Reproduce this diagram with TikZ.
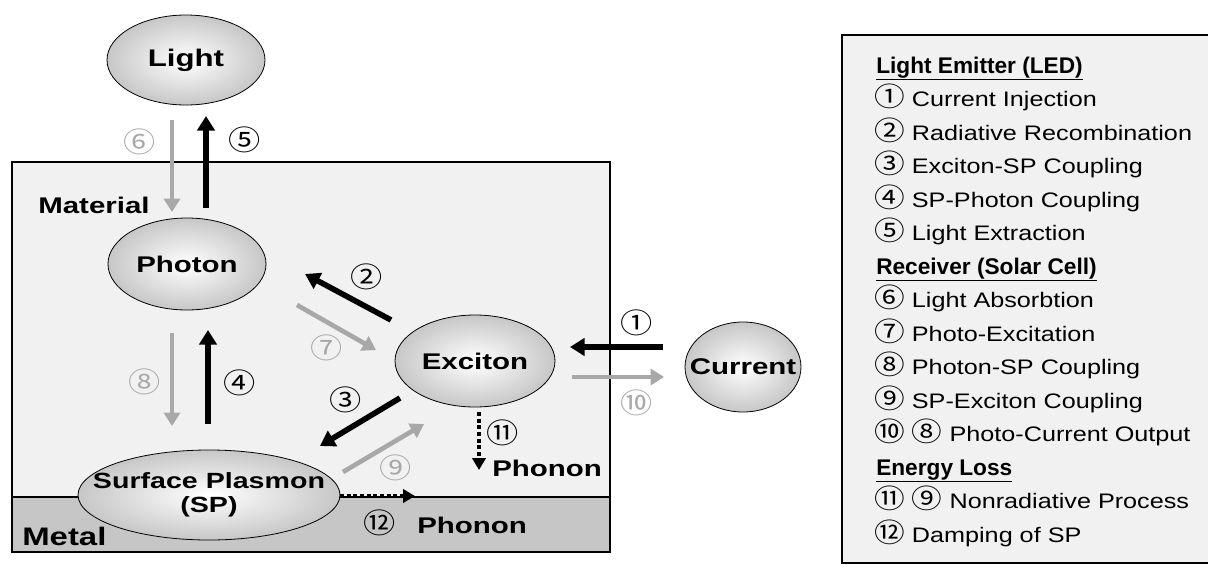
\documentclass[tikz,border=0pt]{standalone}
\usepackage{fontspec}
\setmainfont{Liberation Sans}[FakeStretch=1.3]
\newfontfamily\legf{Liberation Sans}[FakeStretch=1.2]
\newfontfamily\legb{Liberation Sans}
\newfontfamily\cfont{Noto Sans CJK JP}[FakeStretch=1.15]
\usetikzlibrary{arrows.meta,shapes.geometric}
\definecolor{lgray}{HTML}{A8A8A8}
\definecolor{boxfill}{HTML}{F1F1F1}
\definecolor{metalfill}{HTML}{C6C6C6}
\tikzset{
  ell/.style={ellipse, draw=black, line width=0.6pt, shade, inner color=white, outer color=black!22, inner sep=0pt},
  elltext/.style={font=\bfseries\fontsize{17}{19}\selectfont, align=center, inner sep=0pt},
  blk/.style={draw=black, line width=4.2pt, -{Triangle[width=13pt,length=11pt]}},
  gry/.style={draw=lgray, line width=3.5pt, -{Triangle[width=12pt,length=10pt]}},
  dotarrow/.style={draw=black, line width=3pt, dotted, -{Triangle[width=10pt,length=9pt]}},
  cnum/.style={font=\cfont\fontsize{21}{21}\selectfont, inner sep=0pt},
  gnum/.style={cnum, text=lgray},
  lab/.style={font=\bfseries\fontsize{17}{19}\selectfont, inner sep=0pt},
  leg/.style={anchor=base west, inner sep=0pt, font=\legf\fontsize{15.75}{17}\selectfont},
  leghead/.style={leg, font=\legb\bfseries\fontsize{17}{18}\selectfont}
}
\newcommand{\cn}[1]{{\cfont\fontsize{20}{16}\selectfont #1}}
\begin{document}
\begin{tikzpicture}[x=0.75pt, y=-0.75pt]
\useasboundingbox (0,0) rectangle (1208,565);
% material box and metal band
\draw[fill=boxfill, line width=0.8pt] (12,162) rectangle (610,552);
\draw[fill=metalfill, line width=0.8pt] (12,497) rectangle (610,552);
% ellipses
\node[ell, minimum width=118.5pt, minimum height=67.5pt] (Light) at (186,60) {};
\node[elltext, font=\bfseries\fontsize{18}{20}\selectfont] (tLight) at (Light) {Light};
\node[ell, minimum width=118.5pt, minimum height=69pt] (Photon) at (187,264) {};
\node[elltext] (tPhoton) at (Photon) {Photon};
\node[ell, minimum width=120pt, minimum height=69pt] (Exciton) at (475,361) {};
\node[elltext] (tExciton) at (Exciton) {Exciton};
\node[ell, minimum width=87pt, minimum height=67.5pt] (Current) at (743,367) {};
\node[elltext] (tCurrent) at (Current) {Current};
\node[ell, minimum width=196.5pt, minimum height=67.5pt] (SP) at (209,495) {};
\node[elltext, font=\bfseries\fontsize{16.5}{19}\selectfont] (tSP) at (SP) {Surface Plasmon\\[-1pt](SP)};
% labels
\node[lab, anchor=west] (mat) at (38,205) {Material};
\node[lab, anchor=west, font=\bfseries\fontsize{19}{21}\selectfont] (met) at (22,536) {Metal};
\node[lab, anchor=west] (ph1) at (492,468) {Phonon};
\node[lab, anchor=west] (ph2) at (417,525) {Phonon};
% arrow end coordinates
\coordinate (a6) at (172,120); \coordinate (b6) at (172,212);
\coordinate (a5) at (206,208); \coordinate (b5) at (206,116);
\coordinate (a2) at (391,320); \coordinate (b2) at (305,274);
\coordinate (a7) at (297,305); \coordinate (b7) at (376,350);
\coordinate (a8) at (172,333); \coordinate (b8) at (172,426);
\coordinate (a4) at (208,424); \coordinate (b4) at (208,330);
\coordinate (a3) at (400,398); \coordinate (b3) at (320,446);
\coordinate (a9) at (343,472); \coordinate (b9) at (424,424);
\coordinate (a12) at (340,496); \coordinate (b12) at (415,496);
\coordinate (a11) at (479,412); \coordinate (b11) at (479,470);
\coordinate (a1) at (663,347); \coordinate (b1) at (570,347);
\coordinate (a10) at (572,377); \coordinate (b10) at (664,377);
% arrows
\draw[gry] (a6) -- (b6);
\draw[blk] (a5) -- (b5);
\draw[blk] (a2) -- (b2);
\draw[gry] (a7) -- (b7);
\draw[gry] (a8) -- (b8);
\draw[blk] (a4) -- (b4);
\draw[blk] (a3) -- (b3);
\draw[gry] (a9) -- (b9);
\draw[dotarrow] (a12) -- (b12);
\draw[dotarrow] (a11) -- (b11);
\draw[blk] (a1) -- (b1);
\draw[gry] (a10) -- (b10);
% circled numbers
\node[gnum] (n6) at (140,142) {⑥};
\node[cnum] (n5) at (245,140) {⑤};
\node[cnum] (n2) at (367,277) {②};
\node[gnum] (n7) at (327,348) {⑦};
\node[gnum] (n8) at (145,382) {⑧};
\node[cnum] (n4) at (240,383) {④};
\node[cnum] (n3) at (346,400) {③};
\node[gnum] (n9) at (396,468) {⑨};
\node[cnum] (n12) at (380,523) {⑫};
\node[cnum] (n11) at (503,433) {⑪};
\node[cnum] (n1) at (637,323) {①};
\node[gnum] (n10) at (637,403) {⑩};
% legend
\draw[fill=boxfill, line width=0.8pt] (842,35) rectangle (1220,563);
\node[leghead] (h1) at (876,73) {\underline{Light Emitter (LED)}};
\node[leg] (l1) at (874,106.5) {\cn{①} Current Injection};
\node[leg] (l2) at (874,140) {\cn{②} Radiative Recombination};
\node[leg] (l3) at (874,173.5) {\cn{③} Exciton-SP Coupling};
\node[leg] (l4) at (874,207) {\cn{④} SP-Photon Coupling};
\node[leg] (l5) at (874,240.5) {\cn{⑤} Light Extraction};
\node[leghead] (h2) at (876,274) {\underline{Receiver (Solar Cell)}};
\node[leg] (l6) at (874,307.5) {\cn{⑥} Light Absorbtion};
\node[leg] (l7) at (874,341) {\cn{⑦} Photo-Excitation};
\node[leg] (l8) at (874,374.5) {\cn{⑧} Photon-SP Coupling};
\node[leg] (l9) at (874,408) {\cn{⑨} SP-Exciton Coupling};
\node[leg] (l10) at (874,441.5) {\cn{⑩} \cn{⑧} Photo-Current Output};
\node[leghead] (h3) at (876,475) {\underline{Energy Loss}};
\node[leg] (l11) at (874,508.5) {\cn{⑪} \cn{⑨} Nonradiative Process};
\node[leg] (l12) at (874,542) {\cn{⑫} Damping of SP};
\end{tikzpicture}
\end{document}
